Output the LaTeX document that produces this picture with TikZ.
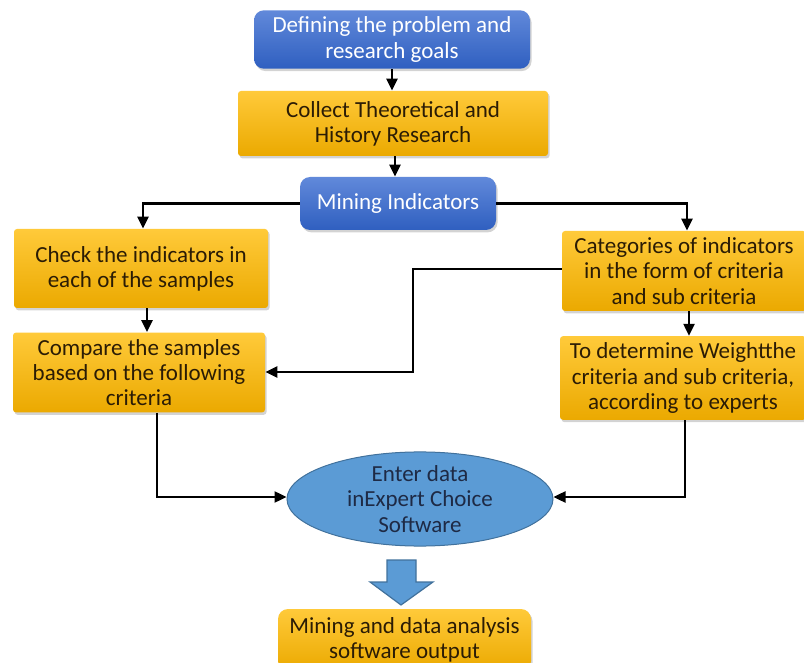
\documentclass[tikz,border=0pt]{standalone}
\usepackage{fontspec}
\setmainfont{Carlito}
\usetikzlibrary{shadows,arrows.meta,shapes.geometric}
\definecolor{bluetop}{HTML}{6189DA}
\definecolor{bluebot}{HTML}{2F5FC0}
\definecolor{goldtop}{HTML}{FFCA3A}
\definecolor{goldbot}{HTML}{EBA900}
\definecolor{ovalfill}{HTML}{5B9BD5}
\definecolor{ovaledge}{HTML}{41719C}
\definecolor{inktext}{HTML}{2B1C05}
\definecolor{navytext}{HTML}{1E2A45}
\tikzset{
  boxfont/.style={font=\fontsize{11.5pt}{12.6pt}\selectfont},
  bluebox/.style={rounded corners=5pt, top color=bluetop, bottom color=bluebot,
    draw=none, text=white, align=center, boxfont,
    drop shadow={shadow xshift=0.8pt, shadow yshift=-1.2pt, opacity=0.35}},
  goldbox/.style={rounded corners=1.5pt, top color=goldtop, bottom color=goldbot,
    draw=none, text=inktext, align=center, boxfont,
    drop shadow={shadow xshift=0.8pt, shadow yshift=-1.2pt, opacity=0.35}},
  link/.style={line width=1.2pt, -{Triangle[length=6pt,width=5.5pt]}},
}
\begin{document}
\begin{tikzpicture}[x=0.5pt,y=-0.5pt]
\useasboundingbox (0,0) rectangle (804,663);

\node[bluebox, minimum width=138pt, minimum height=27.5pt] (goals) at (392,39.5)
  {Defining the problem and\\research goals};
\node[goldbox, minimum width=155pt, minimum height=32.5pt] (collect) at (393,123.5)
  {Collect Theoretical and\\History Research};
\node[bluebox, minimum width=98pt, minimum height=26.5pt] (mining) at (398,203.5)
  {Mining Indicators};
\node[goldbox, minimum width=127pt, minimum height=39.5pt] (check) at (141,268.5)
  {Check the indicators in\\each of the samples};
\node[goldbox, minimum width=126pt, minimum height=39.5pt] (compare) at (139,372.5)
  {Compare the samples\\based on the following\\criteria};
\node[goldbox, minimum width=122pt, minimum height=40pt] (categ) at (684,271)
  {Categories of indicators\\in the form of criteria\\and sub criteria};
\node[goldbox, minimum width=123pt, minimum height=40pt] (weight) at (683,378)
  {To determine Weightthe\\criteria and sub criteria,\\according to experts};
\node[ellipse, fill=ovalfill, draw=ovaledge, line width=0.5pt,
  minimum width=133pt, minimum height=47pt, inner sep=0pt, text=navytext, align=center,
  boxfont] (enter) at (420,499)
  {Enter data\\inExpert Choice\\Software};
\node[goldbox, rounded corners=5pt, minimum width=126.5pt, minimum height=31pt]
  (output) at (404.5,640)
  {Mining and data analysis\\software output};

% block arrow from the oval down to the output box
\filldraw[fill=ovalfill, draw=ovaledge, line width=0.6pt]
  (387,560) -- (416,560) -- (416,582) -- (433,582) -- (401,605)
  -- (370,582) -- (387,582) -- cycle;

% connectors
\draw[link] (goals.south) -- (goals.south |- collect.north);
\draw[link] (collect.south -| 395,0) -- (mining.north -| 395,0);
\draw[link] (mining.west) -| (check.north -| 143,0);
\draw[link] (mining.east) -| (categ.north -| 687,0);
\draw[link] (check.south -| 147,0) -- (compare.north -| 147,0);
\draw[link] (categ.west |- 0,269) -- (413,269) -- (413,372) -- (compare.east |- 0,372);
\draw[link] (categ.south -| 689,0) -- (weight.north -| 689,0);
\draw[link] (compare.south -| 157,0) -- (157,497) -- (enter.west |- 0,497);
\draw[link] (weight.south -| 685,0) -- (685,497) -- (enter.east |- 0,497);
\end{tikzpicture}
\end{document}
